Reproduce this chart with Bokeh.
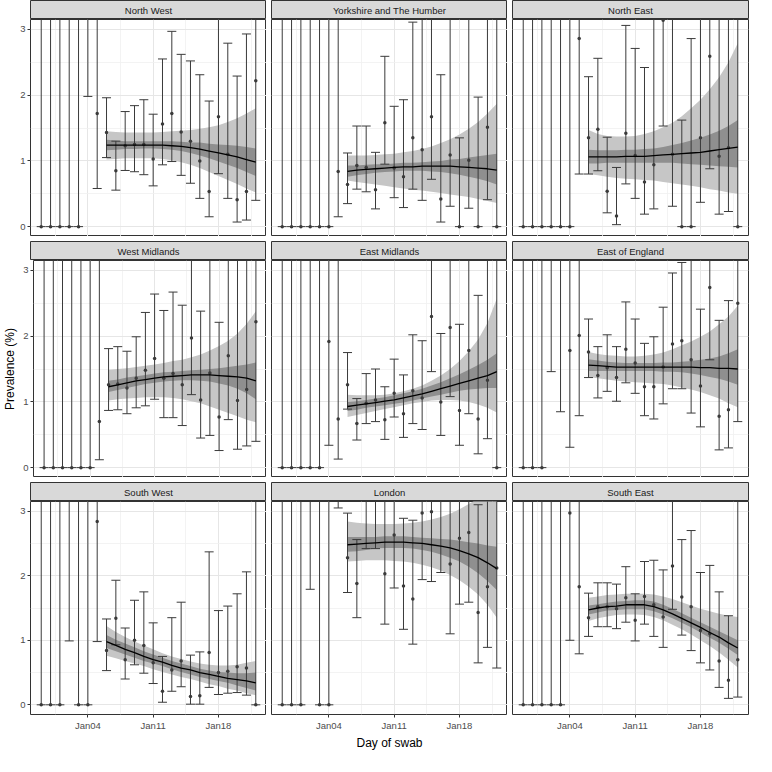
import numpy as np
from bokeh.plotting import figure
from bokeh.layouts import column, row
from bokeh.models import Range1d, FixedTicker, Label
from bokeh.embed import file_html
from bokeh.resources import INLINE

# ---------------- data ----------------
days = ["Dec30", "Dec31", "Jan01", "Jan02", "Jan03", "Jan04", "Jan05", "Jan06",
        "Jan07", "Jan08", "Jan09", "Jan10", "Jan11", "Jan12", "Jan13", "Jan14",
        "Jan15", "Jan16", "Jan17", "Jan18", "Jan19", "Jan20", "Jan21", "Jan22"]
tick_labels = ["Jan04", "Jan11", "Jan18"]
y_ticks = [0, 1, 2, 3]
y_minor = [0.5, 1.5, 2.5]
smooth_start = "Jan06"
nan = float("nan")

regions = ["North West", "Yorkshire and The Humber", "North East",
           "West Midlands", "East Midlands", "East of England",
           "South West", "London", "South East"]

# prevalence (%) per day, lower and upper interval
nw_point = [0, 0, 0, 0, 0, nan, 1.72, 1.43, 0.85, 1.23, 1.25, 1.25, 1.03, 1.56, 1.72, 1.44, 1.30, 1.00, 0.535, 1.67, 1.10, 0.41, 0.535, 2.22]
nw_lower = [0, 0, 0, 0, 0, 1.98, 0.58, 1.05, 0.555, 0.854, 0.835, 0.79, 0.62, 0.94, 0.99, 0.78, 0.66, 0.43, 0.15, 0.805, 0.43, 0.07, 0.10, 0.40]
nw_upper = [4.5, 4.5, 4.5, 4.5, 4.5, 5.0, 3.6, 1.96, 1.30, 1.75, 1.84, 1.93, 1.71, 2.55, 2.97, 2.62, 2.52, 2.31, 1.91, 3.4, 2.79, 2.29, 2.93, 3.8]

yh_point = [0, 0, 0, 0, 0, 0, 0.84, 0.64, 0.93, 0.90, 0.56, 1.58, 0.89, 0.76, 1.35, 1.17, 1.67, 0.42, 1.09, 0, 1.01, 0, 1.51, 0]
yh_lower = [0, 0, 0, 0, 0, 0, 0.15, 0.35, 0.57, 0.53, 0.27, 0.95, 0.44, 0.29, 0.57, 0.40, 0.72, 0.07, 0.31, 0, 0.28, 0, 0.41, 0]
yh_upper = [4.5, 4.5, 4.5, 4.5, 4.5, 4.5, 4.0, 1.12, 1.53, 1.53, 1.13, 2.59, 1.83, 1.93, 3.11, 3.5, 3.6, 2.31, 3.3, 1.35, 3.3, 1.97, 3.7, 4.5]

ne_point = [0, 0, 0, 0, 0, 0, 2.86, 1.35, 1.48, 0.54, 0.16, 1.42, 1.08, 0.68, 0.94, 3.14, 1.10, 0, 0, 1.35, 2.59, 1.07, 1.20, 0]
ne_lower = [0, 0, 0, 0, 0, 0, 0.80, 0.80, 0.85, 0.21, 0.03, 0.65, 0.43, 0.19, 0.27, 1.53, 0.31, 0, 0, 0.37, 0.88, 0.19, 0.23, 0]
ne_upper = [4.5, 4.5, 4.5, 4.5, 4.5, 4.5, 5.5, 2.28, 2.56, 1.36, 0.90, 3.06, 2.71, 2.42, 3.4, 5.0, 3.5, 1.62, 2.86, 3.6, 5.0, 3.6, 3.8, 4.5]

wm_point = [0, 0, 0, 0, 0, 0, 0.70, 1.26, 1.27, 1.21, 1.36, 1.48, 1.66, 1.36, 1.43, 1.26, 1.97, 1.03, 1.44, 0.77, 1.70, 1.02, 1.19, 2.22]
wm_lower = [0, 0, 0, 0, 0, 0, 0.12, 0.87, 0.88, 0.82, 0.91, 0.94, 1.04, 0.76, 0.76, 0.64, 1.11, 0.45, 0.49, 0.26, 0.73, 0.28, 0.33, 0.40]
wm_upper = [4.5, 4.5, 4.5, 4.5, 4.5, 4.5, 3.5, 1.81, 1.84, 1.77, 1.99, 2.36, 2.64, 2.39, 2.67, 2.47, 3.3, 2.38, 3.4, 2.21, 3.6, 3.3, 3.5, 4.0]

em_point = [0, 0, 0, 0, 0, 1.92, 0.74, 1.26, 0.67, 0.98, 1.03, 0.73, 1.13, 0.82, 1.17, 1.06, 2.30, 1.00, 2.13, 0.87, 1.78, 0.74, 1.33, 0]
em_lower = [0, 0, 0, 0, 0, 0.34, 0.13, 0.89, 0.42, 0.67, 0.70, 0.43, 0.77, 0.46, 0.67, 0.58, 1.46, 0.49, 1.08, 0.34, 0.82, 0.21, 0.44, 0]
em_upper = [4.5, 4.5, 4.5, 4.5, 4.5, 4.5, 3.5, 1.75, 1.05, 1.43, 1.50, 1.23, 1.65, 1.41, 2.02, 1.93, 3.6, 2.04, 3.7, 2.18, 3.5, 2.62, 3.4, 4.5]

ee_point = [0, 0, 0, nan, nan, 1.78, 2.01, 1.76, 1.40, 1.52, 1.37, 1.80, 1.59, 1.23, 1.23, 1.53, 1.88, 1.93, 1.64, 1.24, 2.74, 0.78, 0.88, 2.50]
ee_lower = [0, 0, 0, 1.46, 0.85, 0.31, 0.79, 1.37, 1.06, 1.16, 1.01, 1.29, 1.13, 0.79, 0.74, 0.97, 1.20, 1.20, 0.83, 0.62, 1.64, 0.27, 0.30, 0.70]
ee_upper = [4.5, 4.5, 4.5, 5.5, 5.0, 3.8, 3.9, 2.26, 1.84, 2.02, 1.84, 2.52, 2.26, 1.89, 1.99, 2.44, 2.96, 3.12, 3.3, 2.41, 4.0, 2.24, 2.54, 3.9]

sw_point = [0, 0, 0, nan, 0, 0, 2.84, 0.84, 1.34, 0.70, 1.00, 0.92, 0.65, 0.21, 0.54, 0.68, 0.13, 0.14, 0.81, 0.50, 0.52, 0.59, 0.57, 0]
sw_lower = [0, 0, 0, 0.99, 0, 0, 0.98, 0.53, 0.93, 0.40, 0.62, 0.49, 0.33, 0.04, 0.21, 0.28, 0.01, 0.01, 0.27, 0.16, 0.18, 0.19, 0.15, 0]
sw_upper = [4.5, 4.5, 4.5, 5.0, 4.5, 4.5, 4.5, 1.33, 1.93, 1.19, 1.62, 1.75, 1.27, 0.75, 1.35, 1.59, 0.77, 0.82, 2.37, 1.46, 1.53, 1.72, 2.06, 4.5]

ld_point = [0, 0, 0, nan, 0, 0, nan, 2.28, 1.88, 3.3, 3.25, 2.03, 2.63, 1.84, 1.64, 2.97, 2.99, 3.2, 2.18, 2.58, 2.67, 1.43, 1.83, 2.12]
ld_lower = [0, 0, 0, 1.79, 0, 0, 3.05, 1.74, 1.35, 2.42, 2.42, 1.25, 1.81, 1.17, 0.94, 1.94, 1.91, 2.05, 1.10, 1.56, 1.59, 0.65, 0.89, 0.57]
ld_upper = [4.5, 4.5, 4.5, 5.0, 4.5, 4.5, 5.5, 2.97, 2.56, 3.9, 3.9, 3.4, 3.8, 2.89, 2.86, 4.3, 4.3, 3.9, 3.6, 3.9, 4.0, 3.10, 3.5, 3.9]

se_point = [0, 0, 0, 0, 0, 2.97, 1.83, 1.35, 1.52, 1.52, 1.49, 1.66, 1.31, 1.68, 1.55, 1.36, 2.15, 1.67, 1.52, 1.15, 1.10, 0.68, 0.38, 0.70]
se_lower = [0, 0, 0, 0, 0, 1.00, 0.79, 1.06, 1.21, 1.21, 1.18, 1.28, 0.99, 1.25, 1.06, 0.89, 1.48, 1.08, 0.84, 0.65, 0.54, 0.27, 0.10, 0.12]
se_upper = [4.5, 4.5, 4.5, 4.5, 4.5, 4.8, 4.0, 1.73, 1.89, 1.89, 1.87, 2.14, 1.72, 2.22, 2.24, 2.09, 3.4, 2.56, 2.70, 2.05, 2.16, 1.75, 1.38, 3.5]

# smoothed fit from Jan06 on: fit, inner band, outer band
nw_fit = [1.24, 1.24, 1.24, 1.24, 1.24, 1.24, 1.24, 1.23, 1.22, 1.20, 1.18, 1.15, 1.12, 1.09, 1.06, 1.02, 0.98]
nw_in_lo = [1.16, 1.17, 1.18, 1.18, 1.19, 1.19, 1.18, 1.17, 1.15, 1.12, 1.08, 1.04, 0.99, 0.94, 0.89, 0.83, 0.77]
nw_in_hi = [1.32, 1.31, 1.30, 1.30, 1.30, 1.30, 1.30, 1.30, 1.29, 1.28, 1.28, 1.26, 1.25, 1.24, 1.23, 1.21, 1.19]
nw_out_lo = [1.02, 1.03, 1.04, 1.04, 1.04, 1.04, 1.03, 1.01, 0.98, 0.94, 0.89, 0.83, 0.77, 0.71, 0.65, 0.58, 0.52]
nw_out_hi = [1.45, 1.44, 1.43, 1.43, 1.43, 1.43, 1.44, 1.45, 1.46, 1.47, 1.49, 1.51, 1.54, 1.59, 1.65, 1.72, 1.80]

yh_fit = [0.84, 0.86, 0.87, 0.88, 0.89, 0.90, 0.91, 0.91, 0.92, 0.92, 0.92, 0.92, 0.91, 0.90, 0.89, 0.88, 0.86]
yh_in_lo = [0.76, 0.78, 0.80, 0.82, 0.83, 0.84, 0.85, 0.85, 0.85, 0.84, 0.83, 0.81, 0.79, 0.76, 0.73, 0.69, 0.64]
yh_in_hi = [0.93, 0.93, 0.94, 0.95, 0.95, 0.96, 0.97, 0.97, 0.98, 0.99, 1.00, 1.02, 1.03, 1.05, 1.07, 1.09, 1.11]
yh_out_lo = [0.70, 0.68, 0.66, 0.64, 0.62, 0.60, 0.58, 0.56, 0.55, 0.53, 0.51, 0.49, 0.47, 0.45, 0.42, 0.39, 0.36]
yh_out_hi = [1.08, 1.08, 1.08, 1.09, 1.10, 1.11, 1.13, 1.15, 1.18, 1.22, 1.27, 1.33, 1.40, 1.49, 1.59, 1.72, 1.87]

ne_fit = [1.06, 1.06, 1.06, 1.06, 1.07, 1.07, 1.07, 1.08, 1.09, 1.10, 1.11, 1.12, 1.13, 1.15, 1.17, 1.19, 1.21]
ne_in_lo = [0.96, 0.96, 0.97, 0.97, 0.97, 0.97, 0.97, 0.97, 0.97, 0.97, 0.96, 0.95, 0.94, 0.93, 0.92, 0.91, 0.90]
ne_in_hi = [1.17, 1.16, 1.16, 1.16, 1.17, 1.17, 1.18, 1.19, 1.21, 1.24, 1.27, 1.31, 1.35, 1.40, 1.46, 1.53, 1.62]
ne_out_lo = [0.80, 0.78, 0.76, 0.74, 0.73, 0.72, 0.71, 0.70, 0.68, 0.66, 0.64, 0.62, 0.60, 0.57, 0.55, 0.52, 0.50]
ne_out_hi = [1.47, 1.41, 1.38, 1.37, 1.37, 1.38, 1.41, 1.45, 1.51, 1.58, 1.68, 1.80, 1.93, 2.09, 2.27, 2.50, 2.79]

wm_fit = [1.23, 1.26, 1.29, 1.32, 1.34, 1.36, 1.38, 1.39, 1.40, 1.41, 1.41, 1.41, 1.40, 1.39, 1.38, 1.36, 1.32]
wm_in_lo = [1.15, 1.18, 1.21, 1.24, 1.27, 1.29, 1.31, 1.32, 1.33, 1.33, 1.32, 1.31, 1.28, 1.25, 1.20, 1.13, 1.04]
wm_in_hi = [1.32, 1.34, 1.37, 1.39, 1.41, 1.43, 1.45, 1.46, 1.47, 1.48, 1.49, 1.50, 1.51, 1.53, 1.55, 1.57, 1.60]
wm_out_lo = [1.02, 1.04, 1.05, 1.06, 1.07, 1.07, 1.07, 1.06, 1.04, 1.01, 0.98, 0.93, 0.88, 0.83, 0.78, 0.73, 0.69]
wm_out_hi = [1.49, 1.50, 1.51, 1.53, 1.55, 1.57, 1.59, 1.62, 1.64, 1.68, 1.72, 1.78, 1.85, 1.93, 2.04, 2.19, 2.38]

em_fit = [0.93, 0.95, 0.97, 0.99, 1.01, 1.03, 1.06, 1.09, 1.12, 1.16, 1.20, 1.24, 1.28, 1.32, 1.36, 1.40, 1.46]
em_in_lo = [0.86, 0.88, 0.91, 0.93, 0.95, 0.97, 0.99, 1.02, 1.05, 1.08, 1.11, 1.14, 1.17, 1.19, 1.20, 1.21, 1.21]
em_in_hi = [1.00, 1.01, 1.03, 1.05, 1.07, 1.10, 1.13, 1.16, 1.20, 1.25, 1.30, 1.36, 1.42, 1.49, 1.56, 1.64, 1.74]
em_out_lo = [0.77, 0.80, 0.83, 0.86, 0.89, 0.92, 0.95, 0.98, 1.00, 1.02, 1.03, 1.03, 1.02, 1.00, 0.96, 0.91, 0.84]
em_out_hi = [1.11, 1.10, 1.10, 1.10, 1.11, 1.13, 1.16, 1.20, 1.25, 1.32, 1.40, 1.50, 1.62, 1.77, 1.95, 2.20, 2.57]

ee_fit = [1.56, 1.55, 1.54, 1.53, 1.53, 1.53, 1.53, 1.53, 1.53, 1.53, 1.53, 1.53, 1.52, 1.52, 1.51, 1.51, 1.50]
ee_in_lo = [1.47, 1.47, 1.47, 1.47, 1.47, 1.47, 1.47, 1.47, 1.46, 1.46, 1.45, 1.43, 1.41, 1.38, 1.35, 1.31, 1.26]
ee_in_hi = [1.65, 1.63, 1.61, 1.60, 1.59, 1.59, 1.59, 1.59, 1.60, 1.60, 1.61, 1.62, 1.64, 1.66, 1.69, 1.74, 1.80]
ee_out_lo = [1.38, 1.36, 1.34, 1.32, 1.31, 1.30, 1.29, 1.28, 1.27, 1.25, 1.22, 1.19, 1.15, 1.10, 1.05, 0.98, 0.92]
ee_out_hi = [1.76, 1.73, 1.71, 1.70, 1.69, 1.69, 1.70, 1.72, 1.75, 1.80, 1.86, 1.92, 1.99, 2.07, 2.18, 2.30, 2.46]

sw_fit = [0.98, 0.92, 0.86, 0.81, 0.75, 0.70, 0.66, 0.61, 0.57, 0.54, 0.50, 0.47, 0.44, 0.41, 0.39, 0.37, 0.34]
sw_in_lo = [0.88, 0.83, 0.78, 0.73, 0.68, 0.64, 0.60, 0.55, 0.51, 0.47, 0.43, 0.40, 0.37, 0.34, 0.30, 0.26, 0.22]
sw_in_hi = [1.08, 1.01, 0.95, 0.89, 0.83, 0.78, 0.73, 0.68, 0.64, 0.60, 0.56, 0.53, 0.51, 0.50, 0.49, 0.49, 0.50]
sw_out_lo = [0.76, 0.72, 0.68, 0.64, 0.60, 0.55, 0.51, 0.47, 0.43, 0.40, 0.36, 0.32, 0.29, 0.25, 0.22, 0.18, 0.15]
sw_out_hi = [1.22, 1.13, 1.05, 0.98, 0.92, 0.86, 0.80, 0.75, 0.71, 0.67, 0.64, 0.62, 0.61, 0.61, 0.62, 0.65, 0.68]

ld_fit = [2.48, 2.49, 2.50, 2.51, 2.52, 2.52, 2.52, 2.51, 2.50, 2.48, 2.46, 2.43, 2.39, 2.34, 2.28, 2.20, 2.11]
ld_in_lo = [2.37, 2.38, 2.40, 2.42, 2.43, 2.43, 2.43, 2.42, 2.40, 2.37, 2.33, 2.28, 2.22, 2.14, 2.04, 1.92, 1.78]
ld_in_hi = [2.60, 2.60, 2.60, 2.60, 2.61, 2.61, 2.61, 2.60, 2.59, 2.58, 2.57, 2.56, 2.54, 2.52, 2.50, 2.47, 2.45]
ld_out_lo = [2.22, 2.23, 2.24, 2.24, 2.24, 2.23, 2.22, 2.20, 2.17, 2.13, 2.08, 2.01, 1.93, 1.83, 1.71, 1.55, 1.35]
ld_out_hi = [2.84, 2.82, 2.81, 2.80, 2.80, 2.80, 2.81, 2.82, 2.84, 2.87, 2.91, 2.96, 3.03, 3.11, 3.20, 3.30, 3.45]

se_fit = [1.47, 1.50, 1.52, 1.53, 1.55, 1.55, 1.55, 1.52, 1.47, 1.41, 1.34, 1.27, 1.20, 1.12, 1.05, 0.96, 0.88]
se_in_lo = [1.40, 1.43, 1.46, 1.47, 1.48, 1.48, 1.48, 1.45, 1.40, 1.34, 1.27, 1.20, 1.12, 1.04, 0.96, 0.87, 0.77]
se_in_hi = [1.54, 1.56, 1.58, 1.60, 1.61, 1.62, 1.62, 1.60, 1.55, 1.49, 1.42, 1.35, 1.28, 1.21, 1.14, 1.07, 1.00]
se_out_lo = [1.30, 1.34, 1.37, 1.39, 1.40, 1.40, 1.39, 1.36, 1.31, 1.24, 1.17, 1.09, 1.00, 0.91, 0.81, 0.70, 0.58]
se_out_hi = [1.66, 1.68, 1.70, 1.71, 1.72, 1.72, 1.72, 1.71, 1.68, 1.64, 1.59, 1.54, 1.49, 1.45, 1.41, 1.38, 1.36]

# table built from the named arrays
series = {
    "North West": (nw_point, nw_lower, nw_upper, nw_fit, nw_in_lo, nw_in_hi, nw_out_lo, nw_out_hi),
    "Yorkshire and The Humber": (yh_point, yh_lower, yh_upper, yh_fit, yh_in_lo, yh_in_hi, yh_out_lo, yh_out_hi),
    "North East": (ne_point, ne_lower, ne_upper, ne_fit, ne_in_lo, ne_in_hi, ne_out_lo, ne_out_hi),
    "West Midlands": (wm_point, wm_lower, wm_upper, wm_fit, wm_in_lo, wm_in_hi, wm_out_lo, wm_out_hi),
    "East Midlands": (em_point, em_lower, em_upper, em_fit, em_in_lo, em_in_hi, em_out_lo, em_out_hi),
    "East of England": (ee_point, ee_lower, ee_upper, ee_fit, ee_in_lo, ee_in_hi, ee_out_lo, ee_out_hi),
    "South West": (sw_point, sw_lower, sw_upper, sw_fit, sw_in_lo, sw_in_hi, sw_out_lo, sw_out_hi),
    "London": (ld_point, ld_lower, ld_upper, ld_fit, ld_in_lo, ld_in_hi, ld_out_lo, ld_out_hi),
    "South East": (se_point, se_lower, se_upper, se_fit, se_in_lo, se_in_hi, se_out_lo, se_out_hi),
}

# ---------------- layout constants ----------------
FONT = "Liberation Sans"
FW, FH, STRIP_H, GAP = 236, 217, 19, 5
LEFT_AX, BOTTOM_AX, RIGHT_PAD = 30, 34, 3

x_idx = np.arange(len(days), dtype=float)
s0 = days.index(smooth_start)
x_smooth = x_idx[s0:]
tick_pos = [days.index(t) for t in tick_labels]
step = tick_pos[1] - tick_pos[0]
x_minor = [t - step / 2 for t in tick_pos] + [tick_pos[-1] + step / 2]
pad_x = 0.05 * (len(days) - 1)
pad_y = 0.05 * (y_ticks[-1] - y_ticks[0])


def borders(ci, ri):
    left = LEFT_AX if ci == 0 else GAP
    right = RIGHT_PAD if ci == 2 else 0
    bottom = BOTTOM_AX if ri == 2 else 0
    return left, right, bottom


def make_strip(name, ci, ri):
    left, right, _ = borders(ci, ri)
    top = 0 if ri == 0 else GAP
    s = figure(width=left + FW + right, height=STRIP_H + top,
               x_range=Range1d(0, 1), y_range=Range1d(0, 1),
               x_axis_location=None, y_axis_location=None,
               output_backend="svg", toolbar_location=None,
               min_border_left=left, min_border_right=right,
               min_border_top=top, min_border_bottom=0,
               background_fill_color="#D9D9D9", border_fill_color="white",
               outline_line_color="#333333", outline_line_width=1)
    s.grid.visible = False
    s.add_layout(Label(x=0.5, y=0.5, text=name, text_align="center",
                       text_baseline="middle", text_font_size="9.5px",
                       text_color="#1A1A1A", text_font=FONT))
    return s


def make_panel(name, ci, ri):
    pt, lo, hi, fit, ilo, ihi, olo, ohi = [np.array(a, dtype=float) for a in series[name]]
    left, right, bottom = borders(ci, ri)
    p = figure(width=left + FW + right, height=FH + bottom,
               x_range=Range1d(x_idx[0] - pad_x, x_idx[-1] + pad_x),
               y_range=Range1d(y_ticks[0] - pad_y, y_ticks[-1] + pad_y),
               x_axis_location="below" if ri == 2 else None,
               y_axis_location="left" if ci == 0 else None,
               output_backend="svg", toolbar_location=None,
               min_border_left=left, min_border_right=right,
               min_border_top=0, min_border_bottom=bottom,
               background_fill_color="white", border_fill_color="white",
               outline_line_color="#333333", outline_line_width=1)

    p.xgrid.ticker = FixedTicker(ticks=tick_pos, minor_ticks=x_minor)
    p.ygrid.ticker = FixedTicker(ticks=y_ticks, minor_ticks=y_minor)
    for g in (p.xgrid, p.ygrid):
        g.grid_line_color = "#E6E6E6"
        g.grid_line_width = 1
        g.minor_grid_line_color = "#F0F0F0"
        g.minor_grid_line_width = 0.8

    # ribbons
    p.varea(x=x_smooth, y1=olo, y2=ohi, fill_color="#C6C6C6", fill_alpha=1)
    p.varea(x=x_smooth, y1=ilo, y2=ihi, fill_color="#8F8F8F", fill_alpha=1)

    # error bars
    p.segment(x0=x_idx, y0=lo, x1=x_idx, y1=hi, line_color="#3A3A3A", line_width=1)
    p.scatter(x=x_idx, y=lo, marker="dash", size=9, line_color="#3A3A3A", line_width=1)
    p.scatter(x=x_idx, y=hi, marker="dash", size=9, line_color="#3A3A3A", line_width=1)
    # points
    p.scatter(x=x_idx, y=pt, marker="circle", size=3.5, fill_color="#3A3A3A",
              line_color=None)
    # smooth line
    p.line(x=x_smooth, y=fit, line_color="black", line_width=1.3)

    if ci == 0:
        ax = p.yaxis[0]
        ax.ticker = FixedTicker(ticks=y_ticks, minor_ticks=[])
        ax.axis_line_color = None
        ax.major_tick_out = 3
        ax.major_tick_in = 0
        ax.minor_tick_out = 0
        ax.minor_tick_in = 0
        ax.major_tick_line_color = "#333333"
        ax.major_label_text_font = FONT
        ax.major_label_text_font_size = "9.5px"
        ax.major_label_text_color = "#4D4D4D"
        ax.major_label_standoff = 2
        if ri == 1:
            ax.axis_label = "Prevalence (%)"
            ax.axis_label_text_font = FONT
            ax.axis_label_text_font_size = "12px"
            ax.axis_label_text_font_style = "normal"
            ax.axis_label_text_color = "black"
            ax.axis_label_standoff = 3
    if ri == 2:
        ax = p.xaxis[0]
        ax.ticker = FixedTicker(ticks=tick_pos, minor_ticks=[])
        ax.major_label_overrides = {t: lab for t, lab in zip(tick_pos, tick_labels)}
        ax.axis_line_color = None
        ax.major_tick_out = 3
        ax.major_tick_in = 0
        ax.minor_tick_out = 0
        ax.minor_tick_in = 0
        ax.major_tick_line_color = "#333333"
        ax.major_label_text_font = FONT
        ax.major_label_text_font_size = "9.5px"
        ax.major_label_text_color = "#4D4D4D"
        ax.major_label_standoff = 2
        if ci == 1:
            ax.axis_label = "Day of swab"
            ax.axis_label_text_font = FONT
            ax.axis_label_text_font_size = "12px"
            ax.axis_label_text_font_style = "normal"
            ax.axis_label_text_color = "black"
            ax.axis_label_standoff = 2
    return p


rows = []
for ri in range(3):
    names = regions[ri * 3:(ri + 1) * 3]
    rows.append(row([make_strip(n, ci, ri) for ci, n in enumerate(names)], spacing=0))
    rows.append(row([make_panel(n, ci, ri) for ci, n in enumerate(names)], spacing=0))

layout = column(rows, spacing=0)

open("out.html", "w").write(file_html(layout, INLINE))
